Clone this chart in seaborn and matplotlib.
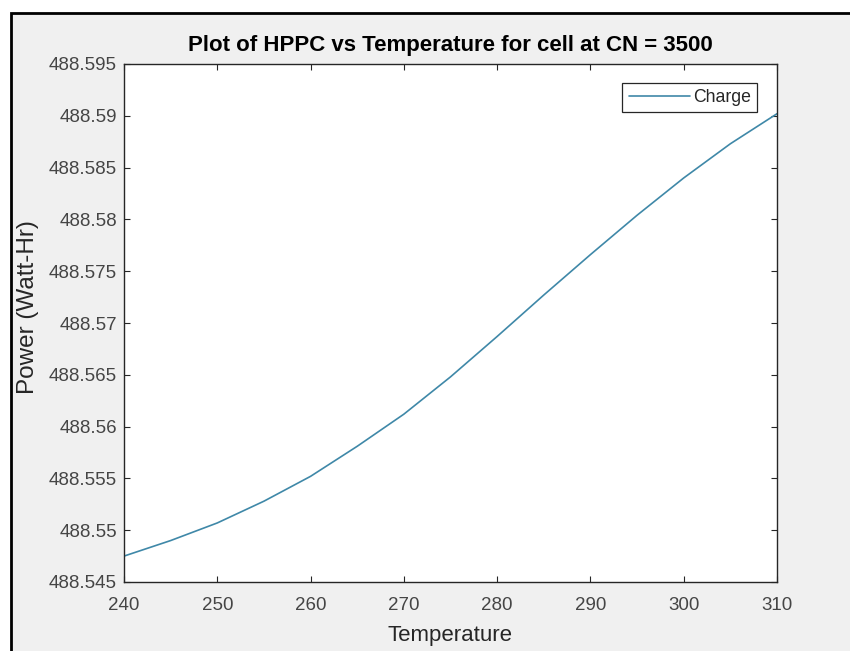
import numpy as np
import pandas as pd
import seaborn as sns
import matplotlib.pyplot as plt
from matplotlib.patches import Rectangle
from matplotlib.ticker import FuncFormatter, MultipleLocator

# values (every 5 K)
temperature = [240, 245, 250, 255, 260, 265, 270, 275, 280, 285, 290, 295, 300, 305, 310]
power_charge = [488.5475, 488.5490, 488.5507, 488.5528, 488.5552, 488.5581, 488.5612,
                488.5648, 488.5687, 488.5727, 488.5766, 488.5804, 488.5840, 488.5873, 488.5902]
series_name = 'Charge'
title_text = 'Plot of HPPC vs Temperature for cell at CN = 3500'
x_label = 'Temperature'
y_label = 'Power (Watt-Hr)'

sns.set_style('ticks')
plt.rcParams['font.family'] = ['Liberation Sans', 'DejaVu Sans']

df = pd.DataFrame({'Temperature': temperature, 'Power': power_charge})

fig = plt.figure(figsize=(8.5, 6.51), dpi=100, facecolor='white')

# grey window background with black frame on top / left (screenshot look)
frame = Rectangle((11 / 850, -0.05), 1.1, 1 - 13 / 651 + 0.05, transform=fig.transFigure,
                  facecolor='#f0f0f0', edgecolor='black', linewidth=2, zorder=-10)
fig.patches.append(frame)

ax = fig.add_axes([124 / 850, 1 - 582 / 651, 653 / 850, 518 / 651])
ax.set_facecolor('white')

sns.lineplot(data=df, x='Temperature', y='Power', ax=ax, color='#3f88a8',
             linewidth=1.2, label=series_name)

ax.set_xlim(240, 310)
ax.set_ylim(488.545, 488.595)
ax.xaxis.set_major_locator(MultipleLocator(10))
ax.yaxis.set_major_locator(MultipleLocator(0.005))
ax.yaxis.set_major_formatter(FuncFormatter(lambda v, p: '{:g}'.format(round(v, 3))))

for s in ax.spines.values():
    s.set_visible(True)
    s.set_color('#262626')
    s.set_linewidth(1.0)

ax.tick_params(direction='in', length=4.5, width=0.8, color='#262626',
               top=True, right=True, labelsize=13.5, labelcolor='#454545')
ax.tick_params(axis='x', pad=11)
ax.tick_params(axis='y', pad=5)

ax.set_title(title_text, fontsize=16, fontweight='bold', color='black', pad=9)
ax.set_xlabel(x_label, fontsize=16, color='#262626', labelpad=8)
ax.set_ylabel(y_label, fontsize=17.5, color='#262626')
ax.yaxis.set_label_coords(-0.13, 0.53)

leg = ax.legend(loc='upper right', bbox_to_anchor=(1 - 20 / 653, 1 - 19 / 518),
                borderaxespad=0, fontsize=12.7, frameon=True, fancybox=False,
                handlelength=3.5, handletextpad=0.15, borderpad=0.35)
leg.get_frame().set_edgecolor('#262626')
leg.get_frame().set_linewidth(0.9)
leg.get_frame().set_alpha(1)

fig.savefig('out.png', dpi=100, facecolor=fig.get_facecolor())
